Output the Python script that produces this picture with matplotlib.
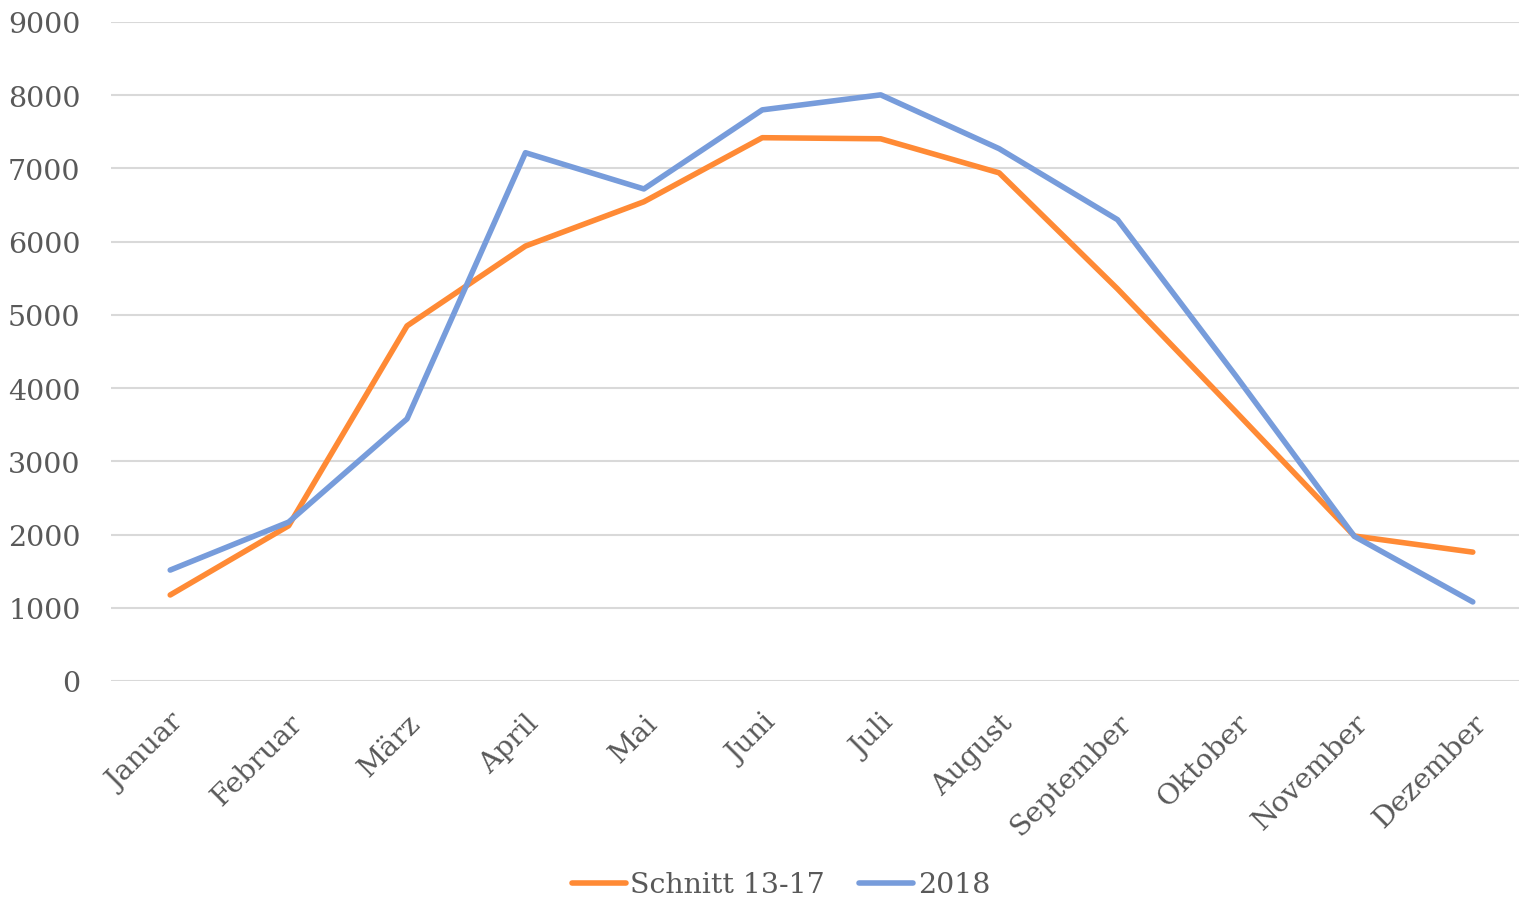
import matplotlib
matplotlib.use("Agg")
import matplotlib.pyplot as plt

months = ["Januar", "Februar", "März", "April", "Mai", "Juni", "Juli",
          "August", "September", "Oktober", "November", "Dezember"]
schnitt = [1175, 2120, 4850, 5940, 6545, 7420, 7405, 6940, 5355, 3675, 1980, 1760]
y2018 = [1515, 2170, 3580, 7215, 6720, 7800, 8005, 7270, 6300, 4165, 1975, 1080]
yticks = list(range(0, 9001, 1000))

W, H = 1519, 903
fig = plt.figure(figsize=(W / 100, H / 100), dpi=100)
ax = fig.add_axes([111 / W, (H - 682) / H, (1532 - 111) / W, (682 - 23) / H])

text_color = "#595959"
font = "DejaVu Serif"
fs = 20.5

x = list(range(len(months)))
ax.plot(x, schnitt, color="#FF8A35", lw=4, solid_capstyle="round",
        solid_joinstyle="round", label="Schnitt 13-17", zorder=3)
ax.plot(x, y2018, color="#779CDB", lw=4, solid_capstyle="round",
        solid_joinstyle="round", label="2018", zorder=3)

ax.set_xlim(-0.5, 11.5)
ax.set_ylim(0, 9000)
ax.set_yticks(yticks)
ax.set_yticklabels([str(v) for v in yticks], fontsize=fs, color=text_color, family=font)
ax.set_xticks(x)
ax.set_xticklabels(months, rotation=45, ha="right", rotation_mode="anchor",
                   fontsize=fs, color=text_color, family=font)
ax.tick_params(axis="both", length=0)
ax.tick_params(axis="y", pad=22)
ax.tick_params(axis="x", pad=20)
ax.grid(axis="y", color="#D9D9D9", lw=1.5)
ax.set_axisbelow(True)
for s in ax.spines.values():
    s.set_visible(False)

leg = fig.legend(loc="center", bbox_to_anchor=(781 / W, (H - 886) / H), ncol=2,
                 frameon=False, handlelength=1.9, columnspacing=1.2, handletextpad=0.15,
                 prop={"family": font, "size": fs})
for t in leg.get_texts():
    t.set_color(text_color)
for l in leg.get_lines():
    l.set_linewidth(4)
    l.set_solid_capstyle("round")

fig.savefig("out.png", dpi=100)
